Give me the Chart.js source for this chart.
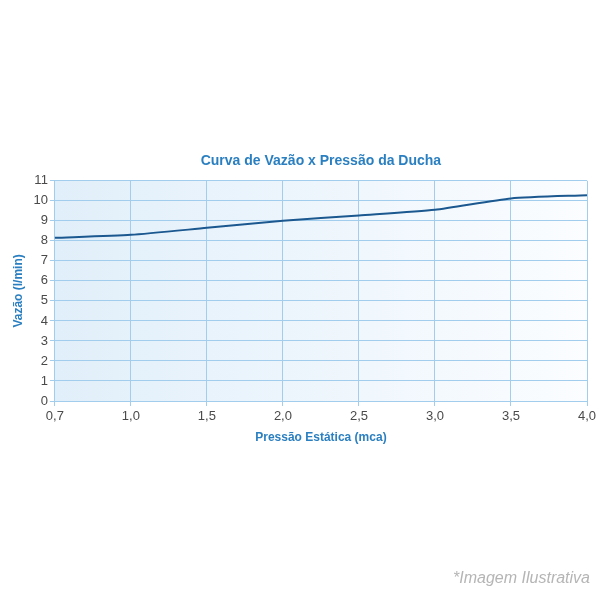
<!DOCTYPE html>
<html>
<head>
<meta charset="utf-8">
<script src="https://cdn.jsdelivr.net/npm/chart.js@4"></script>
<style>
  html, body { margin: 0; padding: 0; background: #fff; }
  #wrap { position: relative; width: 600px; height: 600px; }
  #note { position: absolute; right: 10px; top: 569px; font: italic 16px "Liberation Sans", Arial, sans-serif; color: #b5b5b5; }
</style>
</head>
<body>
<div id="wrap">
  <canvas id="chart" width="600" height="600"></canvas>
  <div id="note">*Imagem Ilustrativa</div>
</div>
<script>
// pressao estatica (mca) x vazao (l/min)
const pressures = ['0,7', '1,0', '1,5', '2,0', '2,5', '3,0', '3,5', '4,0'];
const flow = [8.15, 8.3, 8.65, 9.0, 9.27, 9.55, 10.12, 10.28];

const blue = '#2a7fc1';
const gridColor = '#a3cdec';

const bgPlugin = {
    id: 'plotBg',
    beforeDraw(chart) {
        const { ctx, chartArea: a } = chart;
        const g = ctx.createLinearGradient(a.left, 0, a.right, 0);
        g.addColorStop(0, '#e1effa');
        g.addColorStop(1, '#fbfdff');
        ctx.save();
        ctx.fillStyle = g;
        ctx.fillRect(a.left, a.top, a.right - a.left, a.bottom - a.top);
        ctx.restore();
    }
};

new Chart(document.getElementById('chart'), {
    type: 'line',
    data: {
        labels: pressures,
        datasets: [{
            label: 'Vazão',
            data: flow,
            borderColor: '#1b5890',
            borderWidth: 2,
            tension: 0.2,
            pointRadius: 0
        }]
    },
    options: {
        responsive: false,
        animation: false,
        layout: { padding: { top: 150, left: 7, right: 13, bottom: 151 } },
        scales: {
            x: {
                offset: false,
                grid: { color: gridColor, tickLength: 5, drawTicks: true },
                border: { color: gridColor },
                ticks: { color: '#4a4a4a', font: { family: 'Liberation Sans', size: 13 }, maxRotation: 0, padding: 3 },
                title: {
                    display: true,
                    text: 'Pressão Estática (mca)',
                    color: blue,
                    font: { family: 'Liberation Sans', size: 12, weight: 'bold' },
                    padding: { top: 3 }
                }
            },
            y: {
                min: 0,
                max: 11,
                grid: { color: gridColor, tickLength: 5 },
                border: { color: gridColor },
                ticks: { stepSize: 1, color: '#4a4a4a', font: { family: 'Liberation Sans', size: 13 }, padding: 2 },
                title: {
                    display: true,
                    text: 'Vazão (l/min)',
                    color: blue,
                    font: { family: 'Liberation Sans', size: 12, weight: 'bold' },
                    padding: { bottom: 6 }
                }
            }
        },
        plugins: {
            legend: { display: false },
            tooltip: { enabled: false },
            title: {
                display: true,
                fullSize: false,
                text: 'Curva de Vazão x Pressão da Ducha',
                color: blue,
                font: { family: 'Liberation Sans', size: 14, weight: 'bold' },
                padding: { top: 3, bottom: 11 }
            }
        }
    },
    plugins: [bgPlugin]
});
</script>
</body>
</html>
